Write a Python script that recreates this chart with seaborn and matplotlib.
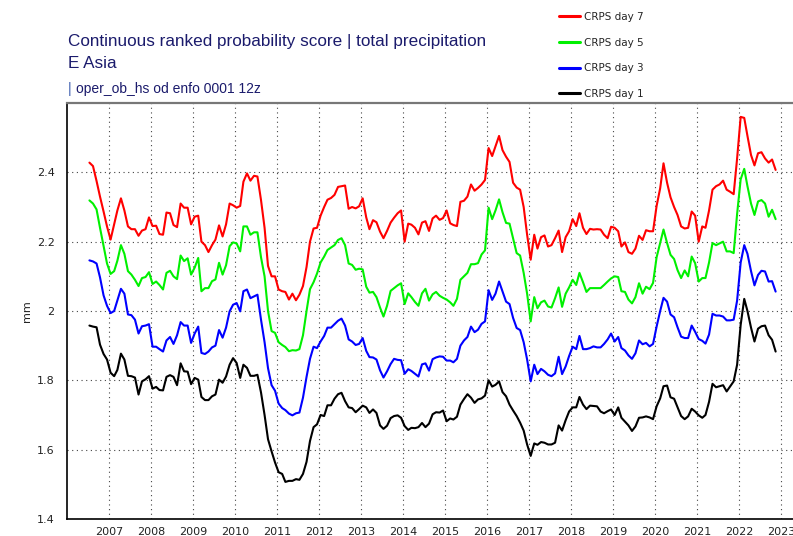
import matplotlib
matplotlib.use("Agg")
import matplotlib.pyplot as plt
import pandas as pd
import seaborn as sns

# Monthly scores, July 2006 .. November 2022 (mid-month stamps)
months = pd.date_range("2006-07-01", "2022-11-01", freq="MS") + pd.Timedelta(days=14)

crps_day7 = [
    2.428, 2.418, 2.375, 2.33, 2.287, 2.244, 2.206, 2.25, 2.29, 2.325, 2.29, 2.244,
    2.236, 2.236, 2.217, 2.232, 2.236, 2.27, 2.245, 2.246, 2.222, 2.22, 2.284, 2.282,
    2.248, 2.242, 2.31, 2.298, 2.298, 2.25, 2.272, 2.275, 2.2, 2.19, 2.17, 2.19,
    2.206, 2.247, 2.215, 2.25, 2.31, 2.305, 2.298, 2.303, 2.373, 2.397, 2.376, 2.39,
    2.388, 2.32, 2.24, 2.13, 2.1, 2.1, 2.062, 2.057, 2.055, 2.033, 2.05, 2.031,
    2.047, 2.072, 2.127, 2.2, 2.238, 2.24, 2.275, 2.3, 2.321, 2.326, 2.335, 2.358,
    2.36, 2.362, 2.295, 2.3, 2.296, 2.302, 2.325, 2.27, 2.236, 2.262, 2.256, 2.229,
    2.21, 2.231, 2.255, 2.269, 2.282, 2.29, 2.2, 2.252, 2.249, 2.24, 2.221, 2.255,
    2.259, 2.231, 2.267, 2.275, 2.263, 2.268, 2.29, 2.253, 2.248, 2.245, 2.315, 2.318,
    2.33, 2.365, 2.347, 2.355, 2.365, 2.378, 2.47, 2.447, 2.475, 2.505, 2.464, 2.445,
    2.43, 2.37, 2.356, 2.35, 2.3, 2.22, 2.148, 2.22, 2.18, 2.213, 2.218, 2.186,
    2.19, 2.21, 2.232, 2.17, 2.213, 2.23, 2.265, 2.245, 2.282, 2.24, 2.222, 2.237,
    2.235, 2.236, 2.235, 2.22, 2.21, 2.243, 2.24, 2.23, 2.186, 2.198, 2.17, 2.165,
    2.18, 2.217, 2.205, 2.233, 2.23, 2.23, 2.303, 2.354, 2.426, 2.37, 2.328, 2.3,
    2.277, 2.244, 2.238, 2.24, 2.287, 2.275, 2.2, 2.244, 2.24, 2.29, 2.35, 2.36,
    2.365, 2.376, 2.35, 2.344, 2.337, 2.44, 2.56, 2.557, 2.505, 2.45, 2.42, 2.455,
    2.458, 2.44, 2.428, 2.437, 2.407,
]

crps_day5 = [
    2.319, 2.31, 2.293, 2.24, 2.187, 2.137, 2.107, 2.115, 2.145, 2.19, 2.165, 2.115,
    2.105, 2.09, 2.072, 2.095, 2.098, 2.112, 2.078, 2.085, 2.075, 2.062, 2.11, 2.116,
    2.1, 2.092, 2.16, 2.144, 2.152, 2.105, 2.125, 2.153, 2.057, 2.066, 2.066, 2.086,
    2.091, 2.139, 2.105, 2.132, 2.187, 2.198, 2.195, 2.172, 2.244, 2.244, 2.22, 2.227,
    2.227, 2.155, 2.1, 2.0, 1.942, 1.937, 1.91, 1.902, 1.896, 1.884, 1.887, 1.886,
    1.89, 1.93, 2.0, 2.063, 2.083, 2.108, 2.14, 2.157, 2.176, 2.183, 2.19, 2.205,
    2.21, 2.19, 2.137, 2.133, 2.119, 2.122, 2.12, 2.07, 2.053, 2.055, 2.04, 2.01,
    1.984, 2.015, 2.058, 2.066, 2.074, 2.08, 2.02, 2.051, 2.04, 2.026, 2.015, 2.051,
    2.064, 2.03, 2.048, 2.055, 2.044, 2.038, 2.033, 2.025, 2.015, 2.035, 2.09, 2.1,
    2.11, 2.135, 2.135, 2.138, 2.163, 2.175, 2.298, 2.265, 2.29, 2.322, 2.285, 2.254,
    2.252, 2.21, 2.167, 2.16, 2.11, 2.05, 1.97, 2.04, 2.008, 2.025, 2.03, 2.013,
    2.01, 2.037, 2.068, 2.012, 2.05, 2.068, 2.09, 2.075, 2.11, 2.083, 2.055, 2.066,
    2.066, 2.066, 2.066, 2.075, 2.085, 2.094, 2.1, 2.098, 2.057, 2.055, 2.033, 2.022,
    2.04, 2.08, 2.05, 2.07, 2.063, 2.081, 2.155, 2.197, 2.235, 2.196, 2.162, 2.15,
    2.118, 2.095, 2.117, 2.1, 2.157, 2.138, 2.085, 2.095, 2.095, 2.14, 2.196, 2.19,
    2.195, 2.2, 2.172, 2.172, 2.167, 2.28, 2.38, 2.41, 2.36, 2.31, 2.277, 2.316,
    2.32, 2.31, 2.272, 2.292, 2.265,
]

crps_day3 = [
    2.146, 2.143, 2.137, 2.097, 2.045, 2.015, 1.994, 2.0, 2.03, 2.064, 2.05, 1.99,
    1.988, 1.975, 1.935, 1.956, 1.958, 1.962, 1.897, 1.897, 1.89, 1.883, 1.915, 1.925,
    1.905, 1.93, 1.968, 1.958, 1.958, 1.908, 1.935, 1.955, 1.879, 1.876, 1.883, 1.895,
    1.9, 1.945, 1.923, 1.952, 1.999, 2.018, 2.023, 1.999, 2.057, 2.062, 2.037, 2.042,
    2.047, 1.975, 1.91, 1.835, 1.786, 1.77, 1.733, 1.72, 1.714, 1.704, 1.699, 1.705,
    1.707, 1.75, 1.81, 1.862, 1.897, 1.893, 1.912, 1.928, 1.952, 1.952, 1.962, 1.972,
    1.978, 1.958, 1.918, 1.912, 1.902, 1.905, 1.922, 1.885, 1.867, 1.866, 1.86, 1.829,
    1.808, 1.826, 1.847, 1.862, 1.859, 1.858, 1.819, 1.832, 1.827, 1.819, 1.811, 1.846,
    1.849, 1.828, 1.861, 1.866, 1.869, 1.868, 1.857, 1.857, 1.852, 1.862, 1.9, 1.915,
    1.925, 1.955, 1.939, 1.946, 1.963, 1.97, 2.06, 2.032, 2.05, 2.085, 2.056, 2.027,
    2.02, 1.98, 1.951, 1.945, 1.91, 1.86, 1.797, 1.845, 1.818, 1.833, 1.826, 1.816,
    1.812, 1.82, 1.868, 1.818, 1.84, 1.87, 1.897, 1.89, 1.928, 1.89, 1.89, 1.893,
    1.898, 1.895, 1.895, 1.905, 1.918, 1.935, 1.912, 1.925, 1.893, 1.886, 1.872, 1.862,
    1.878, 1.915, 1.904, 1.908, 1.898, 1.905, 1.955, 2.0, 2.038, 2.027, 1.99, 1.982,
    1.953, 1.926, 1.922, 1.922, 1.958, 1.94, 1.919, 1.914, 1.906, 1.932, 1.992, 1.987,
    1.987, 1.984, 1.973, 1.973, 1.975, 2.03, 2.14, 2.19, 2.165, 2.115, 2.074, 2.104,
    2.116, 2.114, 2.085, 2.086, 2.056,
]

crps_day1 = [
    1.958, 1.955, 1.953, 1.903, 1.876, 1.86, 1.822, 1.812, 1.83, 1.877, 1.86, 1.813,
    1.812, 1.808, 1.759, 1.797, 1.803, 1.812, 1.776, 1.781, 1.772, 1.771, 1.81, 1.815,
    1.81, 1.786, 1.849, 1.826, 1.825, 1.789, 1.807, 1.802, 1.752, 1.743, 1.743, 1.754,
    1.759, 1.802, 1.793, 1.811, 1.845, 1.864, 1.85, 1.807, 1.845, 1.836, 1.813, 1.813,
    1.816, 1.765, 1.7, 1.63, 1.595, 1.563, 1.535, 1.53, 1.507, 1.51, 1.51, 1.515,
    1.513, 1.53, 1.565, 1.625, 1.665, 1.673, 1.7, 1.697, 1.728, 1.728, 1.747, 1.76,
    1.764, 1.74, 1.722, 1.72, 1.708, 1.717, 1.727, 1.722, 1.706, 1.716, 1.706, 1.67,
    1.66, 1.669, 1.691, 1.697, 1.699, 1.692, 1.668, 1.657, 1.663, 1.662, 1.665, 1.677,
    1.665, 1.675, 1.702, 1.708, 1.707, 1.713, 1.682, 1.69, 1.687, 1.695, 1.73, 1.746,
    1.76, 1.75, 1.735, 1.745, 1.748, 1.756, 1.8, 1.782, 1.787, 1.797, 1.766, 1.754,
    1.73, 1.713, 1.697, 1.678, 1.655, 1.615, 1.582, 1.618, 1.614, 1.622, 1.62, 1.615,
    1.615, 1.62, 1.67, 1.655, 1.685, 1.71, 1.722, 1.722, 1.752, 1.73, 1.717, 1.727,
    1.726, 1.725, 1.71, 1.705, 1.711, 1.716, 1.7, 1.722, 1.692, 1.681, 1.67, 1.654,
    1.667, 1.692, 1.693, 1.696, 1.693, 1.688, 1.725, 1.748, 1.783, 1.785, 1.751, 1.747,
    1.722, 1.697, 1.688, 1.696, 1.718, 1.71, 1.699, 1.692, 1.7, 1.738, 1.79, 1.78,
    1.783, 1.786, 1.768, 1.782, 1.797, 1.845, 1.96, 2.035, 2.0, 1.952, 1.912, 1.949,
    1.956, 1.958, 1.93, 1.917, 1.883,
]

series_names = ["CRPS day 7", "CRPS day 5", "CRPS day 3", "CRPS day 1"]
series_colors = ["#ff0000", "#00f000", "#0000ff", "#000000"]
year_ticks = list(range(2007, 2024))
y_ticks = [1.4, 1.6, 1.8, 2.0, 2.2, 2.4]
y_tick_labels = ["1.4", "1.6", "1.8", "2", "2.2", "2.4"]

title_main = "Continuous ranked probability score | total precipitation"
title_region = "E Asia"
title_source = "oper_ob_hs od enfo 0001 12z"
title_color = "#1b1b6c"

frames = [
    pd.DataFrame({"date": months, "crps": values, "series": name})
    for name, values in zip(series_names, [crps_day7, crps_day5, crps_day3, crps_day1])
]
df = pd.concat(frames, ignore_index=True)

sns.set_style("white")
plt.rcParams["font.family"] = ["DejaVu Sans"]

W, H = 793, 536
fig = plt.figure(figsize=(W / 100, H / 100), dpi=100)
ax = fig.add_axes([67 / W, 17 / H, (W - 67) / W, (519 - 103) / H])

sns.lineplot(
    data=df, x="date", y="crps", hue="series", hue_order=series_names,
    palette=series_colors, linewidth=1.5, estimator=None, errorbar=None, ax=ax,
)

ax.set_xlim(pd.Timestamp("2006-01-01"), pd.Timestamp("2023-04-15"))
ax.set_ylim(1.4, 2.6)
ax.set_xticks([pd.Timestamp(f"{y}-01-01") for y in year_ticks])
ax.set_xticklabels([str(y) for y in year_ticks])
ax.set_yticks(y_ticks)
ax.set_yticklabels(y_tick_labels)
ax.set_xlabel("")
ax.set_ylabel("mm", fontsize=8, color="#222222", labelpad=3)

ax.grid(True, color="#444444", linestyle=(0, (1, 3.2)), linewidth=0.8)
ax.tick_params(axis="x", length=0, pad=6, labelsize=8, colors="#222222")
ax.tick_params(axis="y", length=4, width=1, direction="out", pad=5,
               labelsize=8, colors="#222222")
ax.tick_params(axis="y", color="black")

for side in ("left", "bottom"):
    ax.spines[side].set_color("black")
    ax.spines[side].set_linewidth(1.2)
ax.spines["top"].set_color("#777777")
ax.spines["top"].set_linewidth(1.6)
ax.spines["right"].set_visible(False)

sns.move_legend(
    ax, "upper left", bbox_to_anchor=(559 / W, 1 - 12 / H),
    bbox_transform=fig.transFigure, frameon=False, title=None,
    fontsize=7.5, handlelength=2.0, handletextpad=0.4, labelspacing=1.5,
    borderpad=0, borderaxespad=0,
)
for line in ax.get_legend().get_lines():
    line.set_linewidth(2.2)

title_font = ["Liberation Sans", "DejaVu Sans"]
fig.text(68 / W, 1 - 46 / H, title_main, fontsize=12.3, color=title_color,
         family=title_font, va="baseline", ha="left")
fig.text(68 / W, 1 - 68 / H, title_region, fontsize=12.3, color=title_color,
         family=title_font, va="baseline", ha="left")
fig.text(68 / W, 1 - 93 / H, "|", fontsize=10, color="#3d5fb0",
         family=title_font, va="baseline", ha="left")
fig.text(76 / W, 1 - 93 / H, title_source, fontsize=10, color=title_color,
         family=title_font, va="baseline", ha="left")

fig.savefig("out.png", dpi=100)
